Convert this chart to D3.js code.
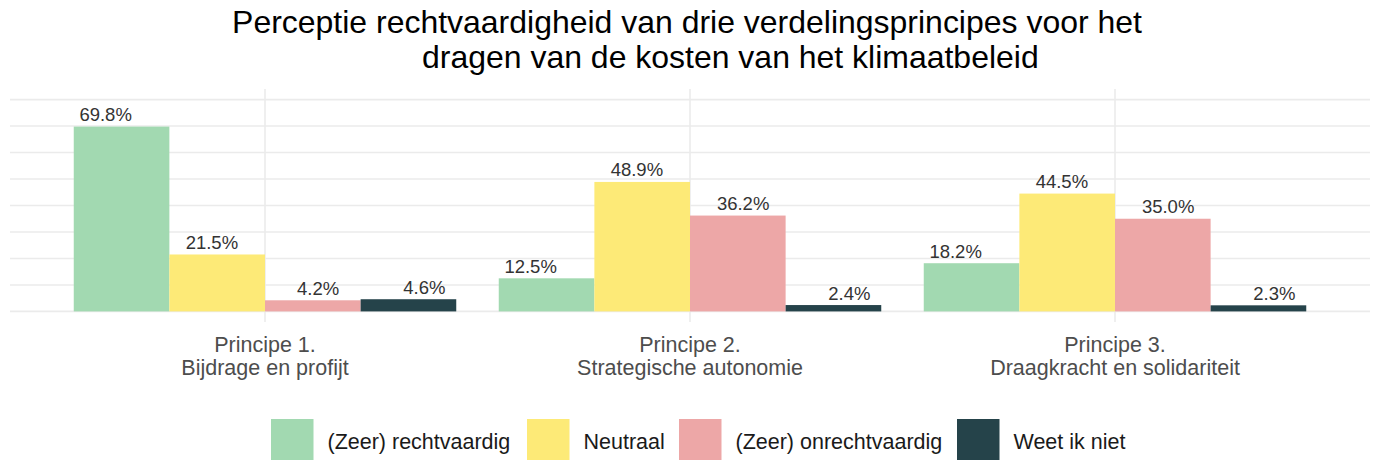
<!DOCTYPE html>
<html>
<head>
<meta charset="utf-8">
<script src="https://cdn.jsdelivr.net/npm/d3@7"></script>
<style>
  body { margin: 0; background: #fff; }
  svg { display: block; font-family: "Liberation Sans", Arial, sans-serif; }
</style>
</head>
<body>
<div id="container"></div>
<script>
// les données
const principes = [
    ["Principe 1.", "Bijdrage en profijt"],
    ["Principe 2.", "Strategische autonomie"],
    ["Principe 3.", "Draagkracht en solidariteit"]
];
const antwoorden = ["(Zeer) rechtvaardig", "Neutraal", "(Zeer) onrechtvaardig", "Weet ik niet"];
const kleuren = ["#a2d9b1", "#fdea77", "#eda7a7", "#25434a"];
// une ligne par principe, une valeur par réponse (en %)
const waarden = [
    [69.8, 21.5, 4.2, 4.6],
    [12.5, 48.9, 36.2, 2.4],
    [18.2, 44.5, 35.0, 2.3]
];
const titel = [
    "Perceptie rechtvaardigheid van drie verdelingsprincipes voor het",
    "dragen van de kosten van het klimaatbeleid"
];

const width = 1375;
const height = 460;
const panel = {left: 10, right: 1370, top: 89, bottom: 322};

const svg = d3.create("svg")
    .attr("width", width)
    .attr("height", height);
d3.select("#container").node().append(svg.node());

const x = d3.scalePoint()
    .domain(d3.range(principes.length))
    .range([panel.left, panel.right])
    .padding(0.6);

// barres: dodge 0.9, étiquettes: dodge 1.0 (comme dans l'original)
const x1 = d3.scaleBand()
    .domain(d3.range(antwoorden.length))
    .range([-x.step() * 0.45, x.step() * 0.45]);
const xLabel = d3.scaleBand()
    .domain(d3.range(antwoorden.length))
    .range([-x.step() * 0.5, x.step() * 0.5]);

const y = d3.scaleLinear()
    .domain([-4, 84])
    .range([panel.bottom, panel.top]);

const color = d3.scaleOrdinal(antwoorden, kleuren);

// grille
svg.append("g")
    .attr("stroke", "#ebebeb")
    .attr("stroke-width", 1.6)
    .selectAll("line")
    .data(d3.range(0, 81, 10))
    .join("line")
    .attr("x1", panel.left)
    .attr("x2", panel.right)
    .attr("y1", d => y(d))
    .attr("y2", d => y(d));

svg.append("g")
    .attr("stroke", "#ebebeb")
    .attr("stroke-width", 1.6)
    .selectAll("line")
    .data(x.domain())
    .join("line")
    .attr("x1", d => x(d))
    .attr("x2", d => x(d))
    .attr("y1", panel.top)
    .attr("y2", panel.bottom);

// barres
const groep = svg.append("g")
    .selectAll("g")
    .data(waarden)
    .join("g")
    .attr("transform", (d, i) => `translate(${x(i)},0)`);

groep.selectAll("rect")
    .data(d => d.map((v, j) => ({v, j})))
    .join("rect")
    .attr("x", d => x1(d.j))
    .attr("width", x1.bandwidth())
    .attr("y", d => y(d.v))
    .attr("height", d => y(0) - y(d.v))
    .attr("fill", d => color(antwoorden[d.j]));

groep.selectAll("text")
    .data(d => d.map((v, j) => ({v, j})))
    .join("text")
    .attr("x", d => xLabel(d.j) + xLabel.bandwidth() / 2)
    .attr("y", d => y(d.v) - 5.5)
    .attr("text-anchor", "middle")
    .attr("font-size", 18.5)
    .attr("fill", "#333333")
    .text(d => d.v.toFixed(1) + "%");

// étiquettes de l'axe x
const as = svg.append("g")
    .selectAll("text")
    .data(principes)
    .join("text")
    .attr("text-anchor", "middle")
    .attr("font-size", 21.5)
    .attr("fill", "#4d4d4d")
    .attr("transform", (d, i) => `translate(${x(i)},351.5)`);
as.selectAll("tspan")
    .data(d => d)
    .join("tspan")
    .attr("x", 0)
    .attr("dy", (d, i) => i ? 23 : 0)
    .text(d => d);

// titre: taille ajustée pour que la 1re ligne fasse ~910 px
const t1 = svg.append("text")
    .attr("x", 687)
    .attr("y", 33)
    .attr("text-anchor", "middle")
    .attr("font-size", 28)
    .attr("fill", "#000")
    .text(titel[0]);
const titelSize = 28 * 910 / t1.node().getComputedTextLength();
t1.attr("font-size", titelSize);
svg.append("text")
    .attr("x", 422)
    .attr("y", 68)
    .attr("font-size", titelSize)
    .attr("fill", "#000")
    .text(titel[1]);

// légende
const legendX = [271, 527, 679, 957];
const leg = svg.append("g")
    .selectAll("g")
    .data(antwoorden)
    .join("g")
    .attr("transform", (d, i) => `translate(${legendX[i]},419)`);
leg.append("rect")
    .attr("width", 42.5)
    .attr("height", 42.5)
    .attr("fill", d => color(d));
leg.append("text")
    .attr("x", 56.5)
    .attr("y", 30)
    .attr("font-size", 21.5)
    .attr("fill", "#1a1a1a")
    .text(d => d);
</script>
</body>
</html>
